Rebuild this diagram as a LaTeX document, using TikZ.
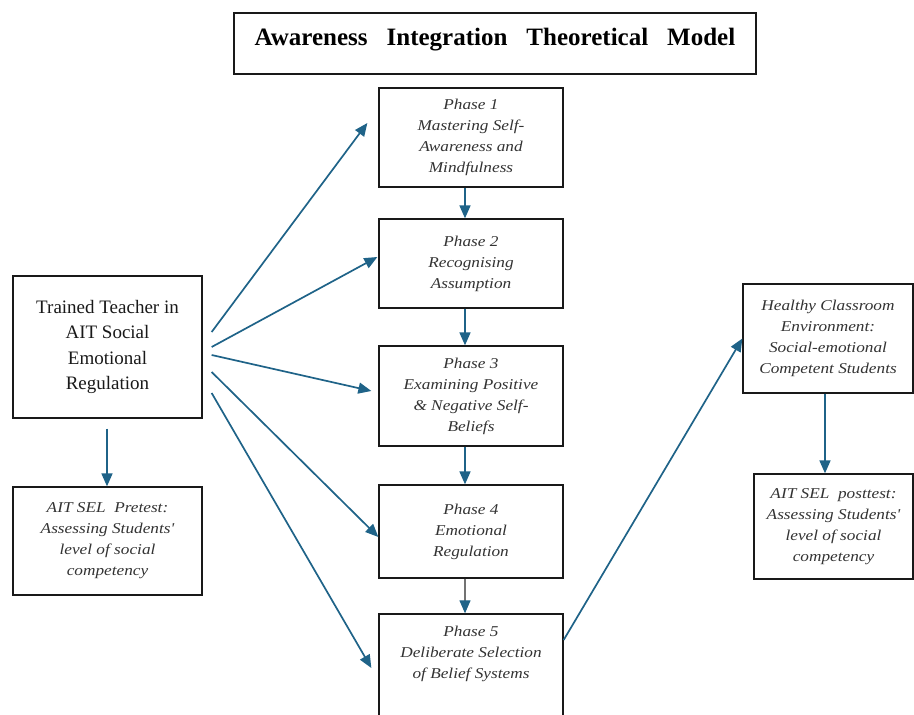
\documentclass[tikz,border=0pt]{standalone}
\usepackage{fontspec}
\setmainfont{Liberation Serif}
\newfontfamily\boxfont[FakeStretch=1.15]{Liberation Serif}
\usetikzlibrary{arrows.meta}
\definecolor{flowblue}{RGB}{31,99,136}
\begin{document}
\begin{tikzpicture}[x=1pt,y=-1pt,
    box/.style={draw=black!90,line width=1.3pt,align=center,inner sep=3pt},
    phase/.style={box,minimum width=184pt,text=black!80,
      font=\boxfont\itshape\fontsize{15}{21}\selectfont},
    flow/.style={-{Triangle[length=13pt,width=11pt]},draw=flowblue,line width=1.7pt},
    thin flow/.style={-{Triangle[length=13pt,width=11pt,color=flowblue]},draw=black!55,line width=1.1pt}]
  \useasboundingbox (0,0) rectangle (914,715);
  \node[box,minimum width=522pt,minimum height=61pt,text height=17pt,text depth=13pt,
    font=\bfseries\fontsize{25}{30}\selectfont] (title) at (495,43.5)
    {Awareness\hspace{19pt}Integration\hspace{19pt}Theoretical\hspace{19pt}Model};
  \node[phase,minimum height=99pt] (p1) at (471,137.5)
    {Phase 1\\Mastering Self-\\Awareness and\\Mindfulness};
  \node[phase,minimum height=89pt] (p2) at (471,263.5)
    {Phase 2\\Recognising\\Assumption};
  \node[phase,minimum height=100pt] (p3) at (471,396)
    {Phase 3\\Examining Positive\\\& Negative Self-\\Beliefs};
  \node[phase,minimum height=93pt] (p4) at (471,531.5)
    {Phase 4\\Emotional\\Regulation};
  \node[phase,minimum height=104pt,text depth=28pt] (p5) at (471,666)
    {Phase 5\\Deliberate Selection\\of Belief Systems};
  \node[box,minimum width=189pt,minimum height=142pt,text=black!90,
    font=\fontsize{19}{25.5}\selectfont] (teacher) at (107.5,347)
    {Trained Teacher in\\AIT Social\\Emotional\\Regulation};
  \node[phase,minimum width=189pt,minimum height=108pt] (pre) at (107.5,541)
    {AIT SEL\ \ Pretest:\\Assessing Students'\\level of social\\competency};
  \node[phase,minimum width=170pt,minimum height=109pt] (healthy) at (828,338.5)
    {Healthy Classroom\\Environment:\\Social-emotional\\Competent Students};
  \node[phase,minimum width=159pt,minimum height=105pt] (post) at (833.5,526.5)
    {AIT SEL\ \ posttest:\\Assessing Students'\\level of social\\competency};
  \begin{scope}[flow]
    \draw ([shift={(9,-15)}]teacher.east) to ([shift={(-11,-14.5)}]p1.west);
    \draw ([shift={(9,0)}]teacher.east) to ([shift={(-1,-6.5)}]p2.west);
    \draw ([shift={(9,8)}]teacher.east) to ([shift={(-7,-5)}]p3.west);
    \draw ([shift={(9,25)}]teacher.east) to ([shift={(0,5.5)}]p4.west);
    \draw ([shift={(9,46)}]teacher.east) to ([shift={(-7,2)}]p5.west);
    \draw ([xshift=-6pt]p1.south) to ([xshift=-6pt]p2.north);
    \draw ([xshift=-6pt]p2.south) to ([xshift=-6pt]p3.north);
    \draw ([xshift=-6pt]p3.south) to ([xshift=-6pt]p4.north);
    \draw ([shift={(0,-26)}]p5.east) to (healthy.west);
    \draw ([shift={(-0.5,10)}]teacher.south) to ([xshift=-0.5pt]pre.north);
    \draw ([xshift=-3pt]healthy.south) to ([xshift=-8.5pt]post.north);
  \end{scope}
  \draw[thin flow] ([xshift=-6pt]p4.south) to ([xshift=-6pt]p5.north);
\end{tikzpicture}
\end{document}
